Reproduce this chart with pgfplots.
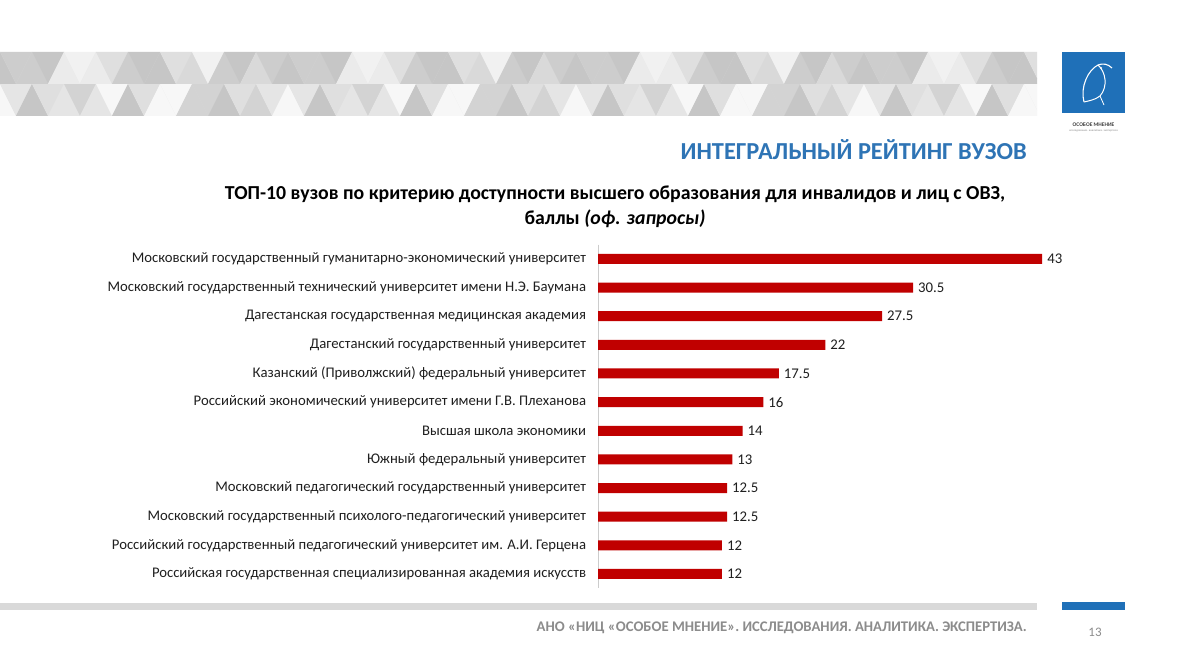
\documentclass[border=0pt]{standalone}
\usepackage{pgfplots}
\pgfplotsset{compat=1.18}
\usepackage{fontspec}
\setmainfont{Carlito}
\definecolor{barred}{HTML}{C00000}
\definecolor{hblue}{HTML}{2E74B5}
\definecolor{logoblue}{HTML}{1F70B8}
\begin{document}
\begin{tikzpicture}[x=1pt,y=1pt]
\useasboundingbox (0,0) rectangle (1177,662);
\fill[white] (0,0) rectangle (1177,662);
% decorative banner
\fill[black!10] (0,546) rectangle (1037,610);
\begin{scope}
\clip (0,546) rectangle (1037,610);
\foreach \i in {0,...,34} {
  \foreach \j in {0,1} {
    \pgfmathtruncatemacro{\g}{mod(\i*37+\j*53+\i*\i*7,9)}
    \pgfmathtruncatemacro{\h}{mod(\i*23+\j*31+\i*\i*5+3,9)}
    \pgfmathsetmacro{\lv}{3+\g*2.4}
    \pgfmathsetmacro{\lw}{3+\h*2.4}
    \fill[black!\lv] (\i*32-16,546+\j*32) -- (\i*32+16,546+\j*32) -- (\i*32,578+\j*32) -- cycle;
    \fill[black!\lw] (\i*32,578+\j*32) -- (\i*32+32,578+\j*32) -- (\i*32+16,546+\j*32) -- cycle;
  }
}
\end{scope}
% logo
\fill[logoblue] (1062,549) rectangle (1125,610);
\draw[white, line width=1.1pt] (1084,560) .. controls (1080,575) and (1088,592) .. (1098,597)
  .. controls (1103,599) and (1108,598) .. (1112,594);
\draw[white, line width=1pt] (1098,597) .. controls (1106,590) and (1108,575) .. (1100,566)
  .. controls (1095,562) and (1088,561) .. (1084,560);
\draw[white, line width=0.8pt] (1100,566) -- (1104,557);
\fill[white] (1101,594) circle (1.2pt);
\node[font=\fontsize{5.5}{6}\selectfont\bfseries, text=black!75] at (1093.5,537) {ОСОБОЕ МНЕНИЕ};
\node[font=\fontsize{3}{4}\selectfont, text=black!45] at (1093.5,531) {исследования. аналитика. экспертиза};
% headings
\node[anchor=east, font=\fontsize{24.4}{28}\selectfont\bfseries, text=hblue, inner sep=0pt] at (1027,512) {ИНТЕГРАЛЬНЫЙ РЕЙТИНГ ВУЗОВ};
\node[align=center, font=\fontsize{19.8}{25}\selectfont\bfseries, inner sep=0pt] at (615,455) {ТОП-10 вузов по критерию доступности высшего образования для инвалидов и лиц с ОВЗ,\\ баллы \textit{(оф. запросы)}};
% footer
\fill[black!15] (0,52) rectangle (1037,59);
\fill[logoblue] (1062,52) rectangle (1125,60);
\node[anchor=east, text=black!45, font=\fontsize{14.7}{17}\selectfont\bfseries, inner sep=0pt] at (1027,34) {АНО «НИЦ «ОСОБОЕ МНЕНИЕ». ИССЛЕДОВАНИЯ. АНАЛИТИКА. ЭКСПЕРТИЗА.};
\node[text=black!45, font=\fontsize{13}{15}\selectfont, inner sep=0pt] at (1095,30) {13};
% chart
\begin{axis}[
  at={(598pt,73.7pt)}, anchor=south west,
  scale only axis, width=464.9pt, height=343.7pt,
  xmin=0, xmax=45, ymin=-0.5, ymax=11.5, y dir=reverse,
  xbar, bar width=10pt,
  axis x line=none, axis y line*=left,
  y axis line style={black!20, line width=0.6pt},
  ytick={0,...,11},
  yticklabels={
    Московский государственный гуманитарно-экономический университет,
    Московский государственный технический университет имени Н.Э. Баумана,
    Дагестанская государственная медицинская академия,
    Дагестанский государственный университет,
    Казанский (Приволжский) федеральный университет,
    Российский экономический университет имени Г.В. Плеханова,
    Высшая школа экономики,
    Южный федеральный университет,
    Московский педагогический государственный университет,
    Московский государственный психолого-педагогический университет,
    Российский государственный педагогический университет им. А.И. Герцена,
    Российская государственная специализированная академия искусств},
  major tick length=0pt,
  yticklabel style={font=\fontsize{14.7}{17}\selectfont, text=black!88, xshift=-8.5pt},
  nodes near coords,
  nodes near coords style={font=\fontsize{14.8}{17}\selectfont, text=black!88, anchor=west, xshift=1.5pt},
  point meta=x,
  /pgf/number format/assume math mode=true,
  clip=false,
]
\addplot[fill=barred, draw=none] coordinates {
  (43,0) (30.5,1) (27.5,2) (22,3) (17.5,4) (16,5) (14,6) (13,7) (12.5,8) (12.5,9) (12,10) (12,11)};
\end{axis}
\end{tikzpicture}
\end{document}
